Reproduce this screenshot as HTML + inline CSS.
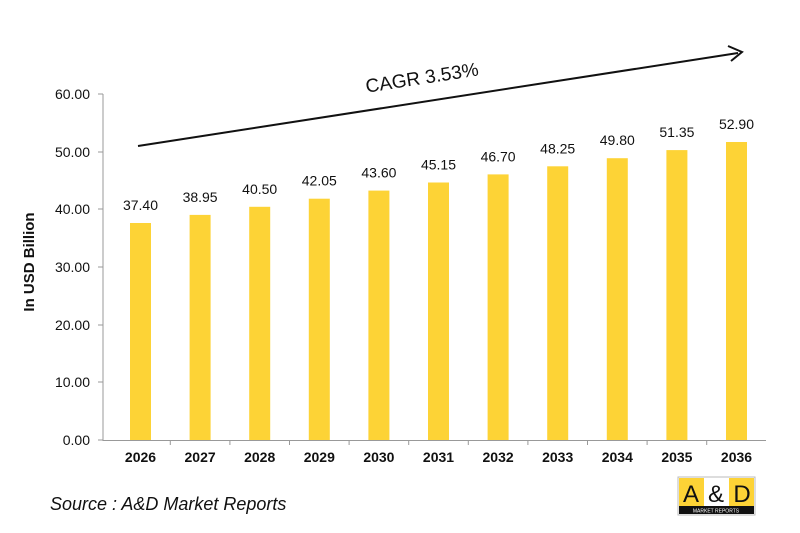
<!DOCTYPE html>
<html><head><style>body{margin:0;background:#fff}svg{display:block}text{font-family:"Liberation Sans",sans-serif;fill:#111}</style></head><body>
<svg width="800" height="533" viewBox="0 0 800 533" xmlns="http://www.w3.org/2000/svg">
<line x1="103" y1="94" x2="103" y2="441" stroke="#999" stroke-width="1"/>
<line x1="103" y1="440.5" x2="766" y2="440.5" stroke="#999" stroke-width="1"/>
<g stroke="#999">
<line x1="98" y1="94" x2="103" y2="94"/><line x1="98" y1="152" x2="103" y2="152"/><line x1="98" y1="209" x2="103" y2="209"/><line x1="98" y1="267" x2="103" y2="267"/><line x1="98" y1="325" x2="103" y2="325"/><line x1="98" y1="382" x2="103" y2="382"/><line x1="98" y1="440" x2="103" y2="440"/>
</g>
<g font-size="14" text-anchor="end">
<text x="90" y="99">60.00</text><text x="90" y="157">50.00</text><text x="90" y="214">40.00</text><text x="90" y="272">30.00</text><text x="90" y="330">20.00</text><text x="90" y="387">10.00</text><text x="90" y="445">0.00</text>
</g>
<text transform="translate(34,262) rotate(-90)" font-size="15" font-weight="bold" text-anchor="middle">In USD Billion</text>
<g fill="#FDD336" id="bars"></g>
<g id="labels" font-size="14" text-anchor="middle"></g>
<line x1="138" y1="146" x2="738" y2="53" stroke="#111" stroke-width="2"/>
<polyline points="728,46 742,52 731,61" fill="none" stroke="#111" stroke-width="2"/>
<text transform="translate(423,84) rotate(-8.8)" font-size="19" text-anchor="middle">CAGR 3.53%</text>
<text x="50" y="510" font-size="18" font-style="italic">Source : A&amp;D Market Reports</text>
<rect x="678" y="477" width="77" height="38" fill="#fff" stroke="#bbb"/>
<rect x="679" y="478" width="25" height="28" fill="#FDD336"/>
<rect x="729" y="478" width="25" height="28" fill="#FDD336"/>
<rect x="679" y="506" width="75" height="8" fill="#111"/>
<text x="691" y="502" font-size="24" text-anchor="middle">A</text>
<text x="716" y="502" font-size="24" text-anchor="middle">&amp;</text>
<text x="742" y="502" font-size="24" text-anchor="middle">D</text>
<text x="716" y="512.5" font-size="5" text-anchor="middle" style="fill:#fff">MARKET REPORTS</text>
<script>
var v=[37.40,38.95,40.50,42.05,43.60,45.15,46.70,48.25,49.80,51.35,52.90];
var b=document.getElementById('bars'),l=document.getElementById('labels'),ns='http://www.w3.org/2000/svg';
v.forEach(function(d,i){var c=140.5+i*59.6,top=223-i*8.1,h=440-top;
var r=document.createElementNS(ns,'rect');r.setAttribute('x',c-10.5);r.setAttribute('y',top);r.setAttribute('width',21);r.setAttribute('height',h);b.appendChild(r);
var t=document.createElementNS(ns,'text');t.setAttribute('x',c);t.setAttribute('y',top-13);t.textContent=d.toFixed(2);l.appendChild(t);
var y=document.createElementNS(ns,'text');y.setAttribute('x',c);y.setAttribute('y',462);y.textContent=2026+i;y.setAttribute('font-weight','bold');l.appendChild(y);
if(i<10){var k=document.createElementNS(ns,'line');k.setAttribute('x1',c+29.8);k.setAttribute('x2',c+29.8);k.setAttribute('y1',440);k.setAttribute('y2',445);k.setAttribute('stroke','#999');b.appendChild(k);}
});
</script>
</svg>
</body></html>
